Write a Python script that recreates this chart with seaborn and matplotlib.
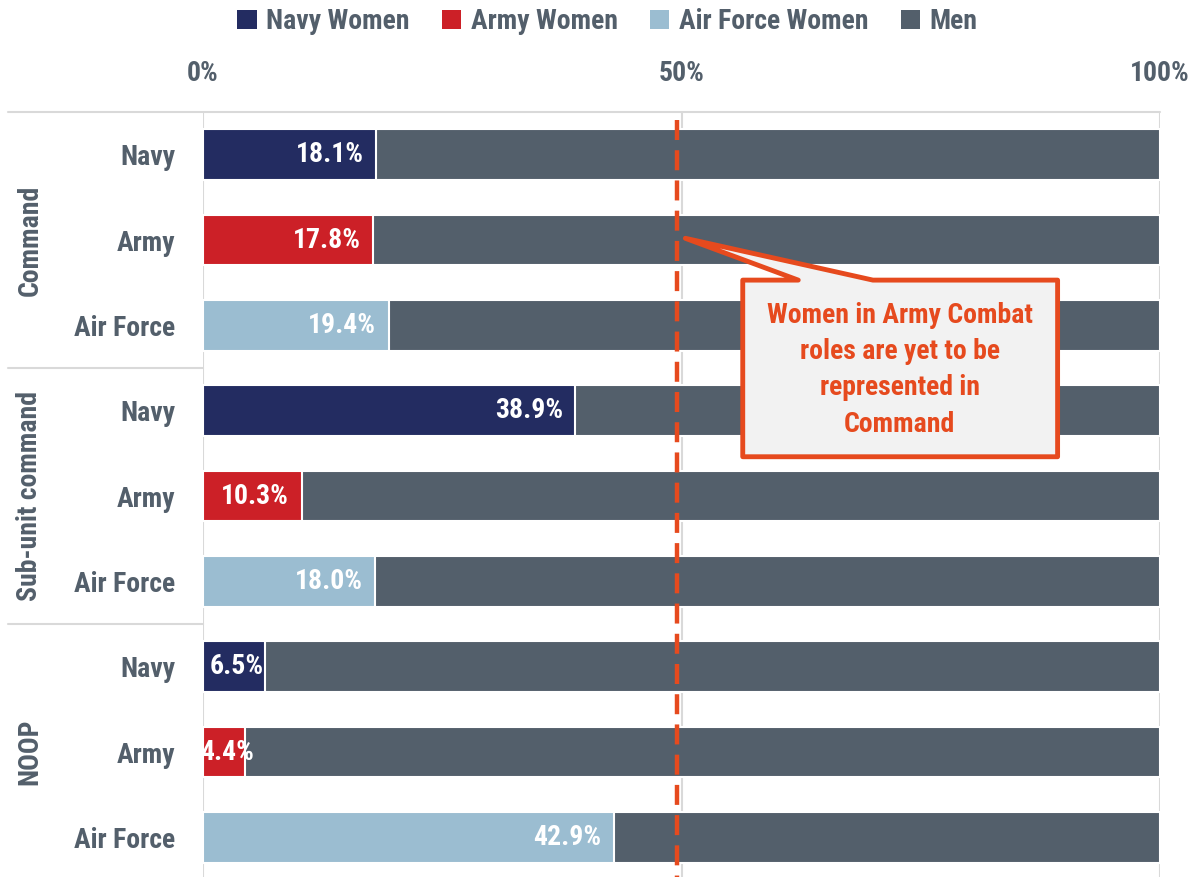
import numpy as np
import pandas as pd
import matplotlib
matplotlib.use("Agg")
import matplotlib.pyplot as plt
import matplotlib.transforms as mtransforms
from matplotlib.patches import Patch, Polygon
import seaborn as sns

# --- data ---
groups = ["Command", "Sub-unit command", "NOOP"]
services = ["Navy", "Army", "Air Force"]
women_pct = [18.1, 17.8, 19.4,   # Command
             38.9, 10.3, 18.0,   # Sub-unit command
             6.5, 4.4, 42.9]     # NOOP
men_pct = [100 - v for v in women_pct]

legend_labels = ["Navy Women", "Army Women", "Air Force Women", "Men"]
tick_values = [0, 50, 100]
note_text = "Women in Army Combat\nroles are yet to be\nrepresented in\nCommand"

# --- style ---
sns.set_style("white")
plt.rcParams["font.family"] = ["Roboto Condensed", "DejaVu Sans"]
plt.rcParams["font.stretch"] = "condensed"
GREY_TXT = "#535F6B"
MEN = "#535F6B"
ORANGE = "#E64A1E"
GRID = "#D9D9D9"
palette = {"Navy": "#232C61", "Army": "#CC2027", "Air Force": "#9BBDD1"}

rows = [f"{g}|{s}" for g in groups for s in services]
df = pd.DataFrame({
    "row": rows,
    "group": np.repeat(groups, len(services)),
    "service": services * len(groups),
    "women": women_pct,
    "men": men_pct,
})
df["total"] = df["women"] + df["men"]

fig = plt.figure(figsize=(11.96, 8.77), dpi=100)
ax = fig.add_axes([203 / 1196, 1 - 880 / 877, 957 / 1196, 768 / 877])

# men (full stack) then women on top
sns.barplot(data=df, x="total", y="row", color=MEN, width=0.59, orient="h",
            edgecolor="white", linewidth=1.5, saturation=1, ax=ax)
sns.barplot(data=df, x="women", y="row", hue="service", palette=palette,
            dodge=False, width=0.59, orient="h", edgecolor="white",
            linewidth=1.5, saturation=1, legend=False, ax=ax)

ax.set_xlim(0, 100)
ax.set_ylim(len(rows) - 0.5, -0.5)
ax.set_xlabel("")
ax.set_ylabel("")
for sp in ax.spines.values():
    sp.set_visible(False)

FS = 20
ax.xaxis.tick_top()
ax.set_xticks(tick_values)
ax.set_xticklabels([f"{t}%" for t in tick_values])
ax.tick_params(axis="x", length=0, pad=18, labelsize=FS, labelcolor=GREY_TXT)
ax.set_yticks(range(len(rows)))
ax.set_yticklabels(df["service"])
ax.tick_params(axis="y", length=0, pad=20, labelsize=FS, labelcolor=GREY_TXT)
for lab in ax.get_xticklabels() + ax.get_yticklabels():
    lab.set_fontweight("bold")

ax.grid(axis="x", color=GRID, lw=1.5)
ax.grid(axis="y", visible=False)
ax.set_axisbelow(True)

# value labels
for i, v in enumerate(df["women"]):
    if v < 8:
        ax.text(v / 2 + 0.3, i, f"{v:.1f}%", ha="center", va="center", color="white",
                fontsize=FS, fontweight="bold", clip_on=True)
    else:
        ax.text(v - 1.3, i, f"{v:.1f}%", ha="right", va="center", color="white",
                fontsize=FS, fontweight="bold")

# frame lines for groups
trans = mtransforms.blended_transform_factory(ax.transAxes, ax.transData)
ax.plot([-0.204, 1], [-0.5, -0.5], transform=trans, color=GRID, lw=1.5,
        clip_on=False)
for k in range(1, len(groups)):
    y = k * len(services) - 0.5
    ax.plot([-0.204, 0], [y, y], transform=trans, color=GRID, lw=1.5,
            clip_on=False)
for k, g in enumerate(groups):
    ax.text(-0.181, k * len(services) + 1, g, transform=trans, rotation=90,
            ha="center", va="center", fontsize=FS, fontweight="bold",
            color=GREY_TXT)

# 50% reference line (dash pattern starts at the top)
ax.axvline(49.5, ymin=0.99, ymax=0, color=ORANGE, lw=3.2,
           linestyle=(0, (4.5, 2.3)), zorder=5)

# callout box with pointer (x in %, y in row units)
callout = [(56.4, 1.47), (62.2, 1.47), (50.4, 0.98), (70.0, 1.47),
           (89.3, 1.47), (89.3, 3.54), (56.4, 3.54)]
ax.add_patch(Polygon(callout, closed=True, fc="#F2F2F2", ec=ORANGE, lw=3.5,
                     joinstyle="round", zorder=6))
ax.text(72.8, 2.52, note_text, ha="center", va="center", fontsize=FS,
        fontweight="bold", color=ORANGE, linespacing=1.45, zorder=7)

# legend
handles = [Patch(fc=palette[s], ec="none") for s in services] + [Patch(fc=MEN, ec="none")]
leg = fig.legend(handles, legend_labels, loc="center", bbox_to_anchor=(0.508, 0.975),
                 ncol=4, frameon=False, fontsize=FS, handlelength=0.7,
                 handleheight=0.7, handletextpad=0.35, columnspacing=1.15)
for t in leg.get_texts():
    t.set_color(GREY_TXT)
    t.set_fontweight("bold")

fig.savefig("out.png", dpi=100)
